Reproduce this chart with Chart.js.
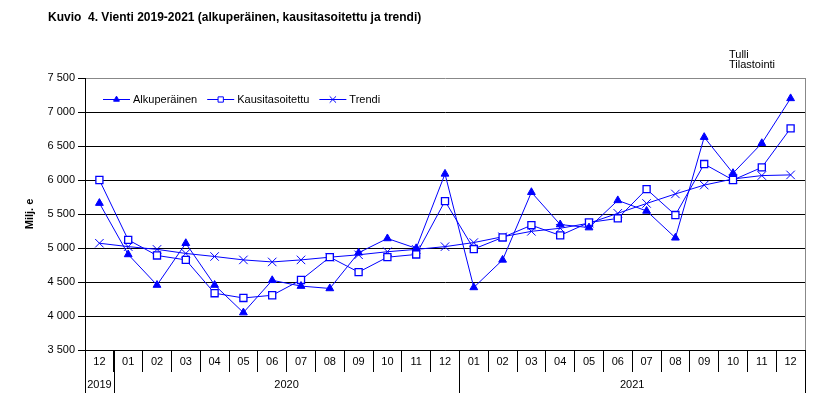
<!DOCTYPE html>
<html>
<head>
<meta charset="utf-8">
<script src="https://cdn.jsdelivr.net/npm/chart.js@4.4.1/dist/chart.umd.min.js"></script>
<style>
  html, body { margin: 0; padding: 0; background: #fff; }
  #wrap { width: 832px; height: 416px; position: relative; }
</style>
</head>
<body>
<div id="wrap"><canvas id="vienti"></canvas></div>
<script>
// Kuukaudet 12/2019 - 12/2021
const months = ['12', '01', '02', '03', '04', '05', '06', '07', '08', '09', '10', '11', '12',
                '01', '02', '03', '04', '05', '06', '07', '08', '09', '10', '11', '12'];
const years = ['2019', '2020', '2021'];
const yearFirst = [0, 1, 13];
const yearLast = [0, 12, 24];

// Milj. e
const alkuperainen = [5660, 4905, 4455, 5070, 4455, 4050, 4525, 4440, 4405, 4930, 5140, 4995, 6090,
                      4420, 4825, 5820, 5345, 5300, 5700, 5545, 5150, 6630, 6100, 6540, 7200];
const kausitasoitettu = [6000, 5120, 4890, 4825, 4335, 4265, 4305, 4530, 4865, 4645, 4865, 4905, 5690,
                         4985, 5155, 5335, 5185, 5375, 5435, 5865, 5485, 6235, 6000, 6185, 6760];
const trendi = [5070, 5020, 4980, 4920, 4875, 4825, 4795, 4825, 4865, 4900, 4945, 4980, 5020,
                5080, 5165, 5245, 5290, 5365, 5510, 5655, 5795, 5925, 6015, 6065, 6075];

const BLUE = 'rgb(0, 0, 255)';
const FONT = '"Liberation Sans", Arial, sans-serif';

// Tekstit, selite, oikea reuna ja vuosirivi
const extras = {
    id: 'extras',
    afterDraw(chart) {
        const ctx = chart.ctx;
        const area = chart.chartArea;
        const x = chart.scales.x;
        ctx.save();

        // otsikko
        ctx.fillStyle = '#000';
        ctx.font = 'bold 12px ' + FONT;
        ctx.textBaseline = 'middle';
        ctx.textAlign = 'left';
        ctx.fillText('Kuvio  4. Vienti 2019-2021 (alkuperäinen, kausitasoitettu ja trendi)', 48, 18);

        ctx.font = '11px ' + FONT;
        ctx.fillText('Tulli', 729, 55);
        ctx.fillText('Tilastointi', 729, 65);

        // oikea reuna
        ctx.strokeStyle = '#888';
        ctx.lineWidth = 1;
        ctx.beginPath();
        ctx.moveTo(Math.round(area.right) + 0.5, area.top);
        ctx.lineTo(Math.round(area.right) + 0.5, area.bottom);
        ctx.stroke();

        // vuodet
        const half = (x.getPixelForValue(1) - x.getPixelForValue(0)) / 2;
        ctx.strokeStyle = '#000';
        ctx.font = '11px ' + FONT;
        ctx.textAlign = 'center';
        years.forEach((yr, i) => {
            const left = x.getPixelForValue(yearFirst[i]) - half;
            const right = x.getPixelForValue(yearLast[i]) + half;
            [left, right].forEach(px => {
                ctx.beginPath();
                ctx.moveTo(Math.round(px) + 0.5, area.bottom);
                ctx.lineTo(Math.round(px) + 0.5, area.bottom + 43);
                ctx.stroke();
            });
            ctx.fillText(yr, (left + right) / 2, area.bottom + 35);
        });

        // selite
        let lx = area.left + 18;
        const ly = area.top + 21;
        ctx.textAlign = 'left';
        chart.data.datasets.forEach(ds => {
            ctx.strokeStyle = ds.borderColor;
            ctx.lineWidth = 1;
            ctx.beginPath();
            ctx.moveTo(lx, ly + 0.5);
            ctx.lineTo(lx + 27, ly + 0.5);
            ctx.stroke();
            ctx.fillStyle = ds.pointBackgroundColor;
            ctx.strokeStyle = ds.pointBorderColor;
            Chart.helpers.drawPoint(ctx, {
                pointStyle: ds.pointStyle,
                radius: ds.pointRadius * 0.75,
                rotation: 0,
                borderWidth: 1
            }, lx + 13.5, ly + 0.5);
            ctx.fillStyle = '#000';
            ctx.fillText(ds.label, lx + 30, ly + 1);
            lx += 30 + ctx.measureText(ds.label).width + 10;
        });

        ctx.restore();
    }
};

new Chart(document.getElementById('vienti'), {
    type: 'line',
    data: {
        labels: months,
        datasets: [
            {
                label: 'Alkuperäinen',
                data: alkuperainen,
                borderColor: BLUE,
                borderWidth: 1,
                pointStyle: 'triangle',
                pointRadius: 4.5,
                pointBackgroundColor: BLUE,
                pointBorderColor: BLUE,
                pointBorderWidth: 1,
                tension: 0
            },
            {
                label: 'Kausitasoitettu',
                data: kausitasoitettu,
                borderColor: BLUE,
                borderWidth: 1,
                pointStyle: 'rect',
                pointRadius: 5,
                pointBackgroundColor: '#fff',
                pointBorderColor: BLUE,
                pointBorderWidth: 1.3,
                tension: 0
            },
            {
                label: 'Trendi',
                data: trendi,
                borderColor: BLUE,
                borderWidth: 1,
                pointStyle: 'crossRot',
                pointRadius: 6,
                pointBackgroundColor: BLUE,
                pointBorderColor: BLUE,
                pointBorderWidth: 1,
                tension: 0
            }
        ]
    },
    options: {
        responsive: true,
        maintainAspectRatio: false,
        animation: false,
        layout: { padding: { top: 78, right: 27, bottom: 0, left: 0 } },
        plugins: {
            legend: { display: false },
            tooltip: { enabled: false }
        },
        scales: {
            x: {
                offset: true,
                afterFit(scale) { scale.height = 66; },
                border: { display: true, color: '#000', width: 1 },
                grid: {
                    offset: true,
                    drawOnChartArea: false,
                    drawTicks: true,
                    tickLength: 22,
                    color: '#000'
                },
                ticks: {
                    autoSkip: false,
                    maxRotation: 0,
                    padding: -17,
                    color: '#000',
                    font: { family: FONT, size: 11 }
                }
            },
            y: {
                min: 3500,
                max: 7500,
                afterFit(scale) { scale.width = 85; },
                border: { display: true, color: '#000', width: 1 },
                grid: {
                    color: ctx => (ctx.tick && ctx.tick.value === 7500) ? '#888' : '#000',
                    tickColor: '#000',
                    tickLength: 7
                },
                ticks: {
                    stepSize: 500,
                    padding: 3,
                    color: '#000',
                    font: { family: FONT, size: 11 },
                    callback: v => String(v).replace(/\B(?=(\d{3})+(?!\d))/g, ' ')
                },
                title: {
                    display: true,
                    text: 'Milj. e',
                    color: '#000',
                    font: { family: FONT, size: 11, weight: 'bold' },
                    padding: { top: 23, bottom: 0 }
                }
            }
        }
    },
    plugins: [extras]
});
</script>
</body>
</html>
